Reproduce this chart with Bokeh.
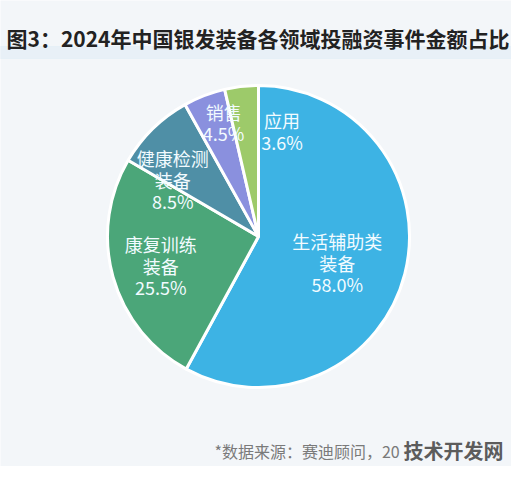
import numpy as np
from bokeh.core.properties import value
from bokeh.embed import file_html
from bokeh.models import ColumnDataSource, Range1d
from bokeh.plotting import figure
from bokeh.resources import INLINE

# data
categories = ["生活辅助类\n装备", "康复训练\n装备", "健康检测\n装备", "销售", "应用"]
shares = [58.0, 25.5, 8.5, 4.5, 3.6]
colors = ["#3db3e4", "#4ba679", "#4f8fa6", "#8a90de", "#9dca6a"]

title_text = "图3：2024年中国银发装备各领域投融资事件金额占比"
source_text = "*数据来源：赛迪顾问，20"
mark_text = "技术开发网"

W, H = 511, 466
FONT = "Noto Sans CJK SC"
LINE = 21.5

p = figure(
    width=W,
    height=H,
    x_range=Range1d(0, W),
    y_range=Range1d(0, H),
    output_backend="svg",
    toolbar_location=None,
    min_border=0,
)
p.axis.visible = False
p.grid.visible = False
p.outline_line_color = None
p.background_fill_color = "#f3f6f9"
p.border_fill_color = "#f3f6f9"

# faint band under the title
p.quad(left=0, right=W, bottom=H - 58, top=H - 46, color="#e2eef6", alpha=0.7)

# pie, clockwise from 12 o'clock
cx, cy, R = 258, 230, 151
frac = np.array(shares) / sum(shares)
cum = np.concatenate([[0], np.cumsum(frac)])
start = np.pi / 2 - 2 * np.pi * cum[:-1]
end = np.pi / 2 - 2 * np.pi * cum[1:]

src = ColumnDataSource(dict(start=start, end=end, color=colors))
p.wedge(
    x=cx, y=cy, radius=R,
    start_angle="start", end_angle="end", direction="clock",
    fill_color="color", line_color="white", line_width=3,
    source=src,
)

# label placement (angle offset in degrees, radius) relative to mid angle
label_nudge = [(-4, 83), (1, 102), (12, 103), (-4, 119), (-19, 108)]
mid = (start + end) / 2
lx, ly, ltxt = [], [], []
for i, cat in enumerate(categories):
    da, r = label_nudge[i]
    a = mid[i] + np.deg2rad(da)
    bx = cx + r * np.cos(a)
    by = cy + r * np.sin(a)
    rows = cat.split("\n") + [f"{shares[i]:.1f}%"]
    n = len(rows)
    for j, row in enumerate(rows):
        lx.append(bx)
        ly.append(by + (n - 1) / 2 * LINE - j * LINE)
        ltxt.append(row)

p.text(
    x=lx, y=ly, text=ltxt,
    text_font=value(FONT), text_font_size="18px", text_color="#f2fbff",
    text_align="center", text_baseline="middle",
)

# title
p.text(
    x=[W / 2 + 2], y=[H - 37], text=[title_text],
    text_font=value(FONT), text_font_size="21px", text_font_style="bold",
    text_color="#222222", text_align="center", text_baseline="middle",
)

# source note + watermark
p.text(
    x=[214], y=[H - 450], text=[source_text],
    text_font=value(FONT), text_font_size="16px", text_color="#7a7a7a",
    text_align="left", text_baseline="middle",
)
p.text(
    x=[503], y=[H - 450], text=[mark_text],
    text_font=value(FONT), text_font_size="20px", text_font_style="bold",
    text_color="#5c5c5c", text_align="right", text_baseline="middle",
)

open("out.html", "w").write(file_html(p, INLINE))
